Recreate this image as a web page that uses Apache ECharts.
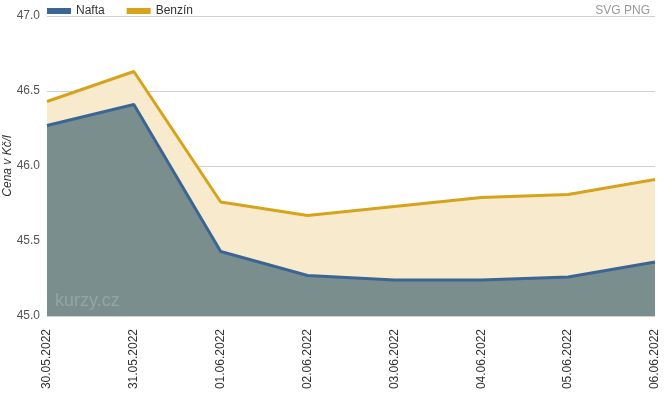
<!DOCTYPE html>
<html><head><meta charset="utf-8">
<script src="https://cdn.jsdelivr.net/npm/echarts@6/dist/echarts.min.js"></script>
<style>html,body{margin:0;padding:0;background:#fff}#c{width:668px;height:396px}</style>
</head><body><div id="c"></div>
<script>
const categories = ['30.05.2022','31.05.2022','01.06.2022','02.06.2022','03.06.2022','04.06.2022','05.06.2022','06.06.2022'];
const nafta = [46.27, 46.41, 45.43, 45.27, 45.24, 45.24, 45.26, 45.36];
const benzin = [46.43, 46.63, 45.76, 45.67, 45.73, 45.79, 45.81, 45.91];
const yTicks = {min: 45.0, max: 47.0, interval: 0.5};
const yName = 'Cena v Kč/l';

const chart = echarts.init(document.getElementById('c'));
const F = 'Liberation Sans, Arial, sans-serif';
chart.setOption({
  animation: false,
  textStyle: {fontFamily: F},
  grid: {left: 47, right: 13, top: 16, bottom: 80, containLabel: false, outerBoundsMode: 'none'},
  legend: {
    data: ['Nafta', 'Benzín'], left: 42, top: 0, itemWidth: 24, itemHeight: 6, itemGap: 22,
    icon: 'rect', textStyle: {fontSize: 12, color: '#333', fontFamily: F}
  },
  graphic: [
    {type: 'text', right: 18, top: 5, style: {text: 'SVG PNG', fill: '#999', font: '12px ' + F}},
    {type: 'text', left: 55, top: 292, z: 100, style: {text: 'kurzy.cz', fill: 'rgba(255,255,255,0.2)', font: '18px ' + F}},
    {type: 'text', x: 8, y: 166, rotation: Math.PI / 2,
     style: {text: yName, fill: '#333', font: 'italic 12px ' + F, align: 'center', verticalAlign: 'middle'}}
  ],
  xAxis: {
    type: 'category', data: categories, boundaryGap: false,
    axisLine: {show: false}, axisTick: {show: false},
    axisLabel: {rotate: 90, color: '#333', fontSize: 12, margin: 13, fontFamily: F},
    splitLine: {show: false}
  },
  yAxis: {
    type: 'value', min: yTicks.min, max: yTicks.max, interval: yTicks.interval,
    axisLine: {show: false}, axisTick: {show: false},
    axisLabel: {color: '#555', fontSize: 12, margin: 7, formatter: v => v.toFixed(1), fontFamily: F},
    splitLine: {lineStyle: {color: '#d0d0d0', width: 1}}
  },
  series: [
    {name: 'Benzín', type: 'line', data: benzin, symbol: 'none', z: 2,
     lineStyle: {color: '#d6a31b', width: 3}, itemStyle: {color: '#d6a31b'},
     areaStyle: {color: '#f8ebcd', opacity: 1, origin: 'start'}},
    {name: 'Nafta', type: 'line', data: nafta, symbol: 'none', z: 3,
     lineStyle: {color: '#3b6594', width: 3}, itemStyle: {color: '#3b6594'},
     areaStyle: {color: '#7a8e8d', opacity: 1, origin: 'start'}}
  ]
});
</script></body></html>
